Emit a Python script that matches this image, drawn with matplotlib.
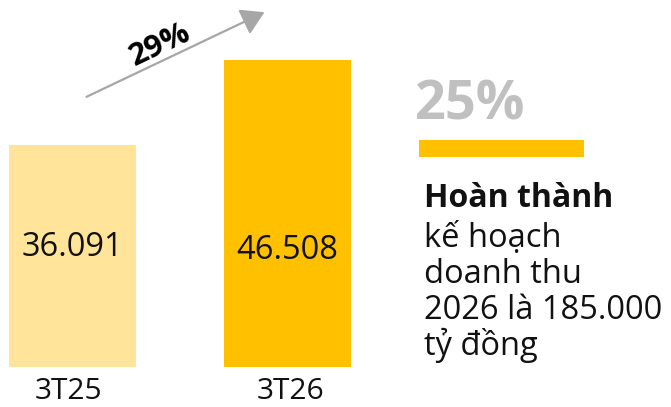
import matplotlib
matplotlib.use("Agg")
import matplotlib.pyplot as plt
from matplotlib.patches import Rectangle, FancyArrowPatch

categories = ["3T25", "3T26"]
values = [36.091, 46.508]
value_labels = ["36.091", "46.508"]
bar_colors = ["#FFE49A", "#FFC000"]
growth_label = "29%"
plan_pct = "25%"
plan_title = "Hoàn thành"
plan_lines = ["kế hoạch", "doanh thu", "2026 là 185.000", "tỷ đồng"]

W, H = 671, 407
plt.rcParams['font.family'] = ['Open Sans', 'DejaVu Sans']
fig = plt.figure(figsize=(W / 100, H / 100), dpi=100)

def fx(x):
    return x / W

def fy(y):
    return 1 - y / H

ax = fig.add_axes([fx(9), fy(367), fx(351) - fx(9), fy(60) - fy(367)])
width = 127 / 215
ax.bar(range(len(values)), values, width=width, color=bar_colors)
ax.set_xlim(-width / 2, len(values) - 1 + width / 2)
ax.set_ylim(8.9, max(values))
ax.axis("off")
label_y = [0.388, 0.378]
for i, lab in enumerate(value_labels):
    ax.text(i, label_y[i], lab, ha="center", va="center", fontsize=23.5,
            color="#111111", transform=ax.get_xaxis_transform())

cat_x = [69, 291]
for i, c in enumerate(categories):
    fig.text(fx(cat_x[i]), fy(399), c, ha="center", va="baseline", fontsize=21.5,
             color="#111111")

# growth arrow
fig.add_artist(FancyArrowPatch(
    (fx(84), fy(98)), (fx(267), fy(11)), transform=fig.transFigure,
    arrowstyle="-|>,head_length=10,head_width=6", color="#A6A6A6", lw=1.6,
    mutation_scale=1.4))
fig.text(fx(160), fy(45), growth_label, ha="center", va="center", rotation=25.4,
         fontsize=22.5, fontweight="bold", color="#000000")

# plan block
fig.text(fx(415), fy(106), plan_pct, ha="left", va="center", fontsize=39,
         fontweight="bold", color="#C0C0C0")
fig.add_artist(Rectangle((fx(419), fy(157)), fx(584) - fx(419), fy(140) - fy(157),
                         transform=fig.transFigure, color="#FFC000", lw=0))
fig.text(fx(424), fy(207), plan_title, ha="left", va="baseline", fontsize=23,
         fontweight="bold", color="#111111")
for k, line in enumerate(plan_lines):
    fig.text(fx(424), fy(247 + 36 * k), line, ha="left", va="baseline", fontsize=23.5,
             color="#111111")

fig.savefig("out.png", dpi=100, facecolor="white")
